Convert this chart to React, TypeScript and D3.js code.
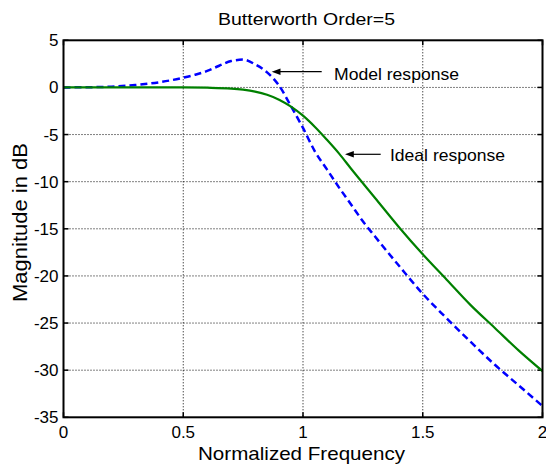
import * as d3 from 'd3';

// readings from the reference plot
const modelFreq = [0, 0.1, 0.2, 0.3, 0.4, 0.5, 0.55, 0.6, 0.65, 0.7, 0.75, 0.8, 0.85, 0.9, 0.95, 1.0, 1.05, 1.1, 1.15, 1.2, 1.25, 1.3, 1.4, 1.5, 1.6, 1.7, 1.8, 1.9, 2.0];
const modelDb = [0, 0.02, 0.08, 0.25, 0.55, 1.03, 1.35, 1.75, 2.3, 2.8, 2.95, 2.45, 1.6, 0.2, -2.0, -4.3, -6.8, -8.7, -10.6, -12.4, -14.2, -15.8, -18.9, -21.9, -24.5, -27.0, -29.4, -31.6, -33.8];

const idealFreq = [0, 0.3, 0.5, 0.6, 0.7, 0.75, 0.8, 0.85, 0.9, 0.95, 1.0, 1.05, 1.1, 1.15, 1.2, 1.3, 1.4, 1.5, 1.6, 1.7, 1.8, 1.9, 2.0];
const idealDb = [0, 0, 0, -0.03, -0.12, -0.24, -0.44, -0.78, -1.3, -2.04, -3.0, -4.2, -5.56, -7.0, -8.6, -11.7, -14.8, -17.7, -20.4, -23.1, -25.5, -27.9, -30.1];

const xTicks = [0, 0.5, 1, 1.5, 2];
const xTickLabels = ['0', '0.5', '1', '1.5', '2'];
const yTicks = [5, 0, -5, -10, -15, -20, -25, -30, -35];

const width = 546;
const height = 468;
const margin = { top: 40.3, right: 3.5, bottom: 50.7, left: 63.5 };
const font = '"Liberation Sans", Arial, sans-serif';

export default function App() {
  const x = d3.scaleLinear().domain([0, 2]).range([margin.left, width - margin.right]);
  const y = d3.scaleLinear().domain([-35, 5]).range([height - margin.bottom, margin.top]);
  const [x0, x1] = x.range();
  const [y0, y1] = y.range();

  const line = d3.line<[number, number]>()
    .x(d => x(d[0]))
    .y(d => y(d[1]))
    .curve(d3.curveMonotoneX);

  const modelPts = modelFreq.map((f, i) => [f, modelDb[i]] as [number, number]);
  const idealPts = idealFreq.map((f, i) => [f, idealDb[i]] as [number, number]);

  const tick = 5;

  return (
    <svg width={width} height={height} style={{ position: 'absolute', left: 0, top: 0, background: '#fff' }}>
      <defs>
        <clipPath id="plot">
          <rect x={x0} y={y1} width={x1 - x0} height={y0 - y1} />
        </clipPath>
      </defs>

      {/* grid */}
      <g stroke="#000" strokeWidth={1} strokeDasharray="1,2">
        {xTicks.slice(1, -1).map(t => (
          <line key={'gx' + t} x1={x(t)} x2={x(t)} y1={y1} y2={y0} />
        ))}
        {yTicks.slice(1, -1).map(t => (
          <line key={'gy' + t} x1={x0} x2={x1} y1={y(t)} y2={y(t)} />
        ))}
      </g>

      {/* ticks, inward on all sides */}
      <g stroke="#000" strokeWidth={1.5}>
        {xTicks.map(t => (
          <g key={'tx' + t}>
            <line x1={x(t)} x2={x(t)} y1={y0} y2={y0 - tick} />
            <line x1={x(t)} x2={x(t)} y1={y1} y2={y1 + tick} />
          </g>
        ))}
        {yTicks.map(t => (
          <g key={'ty' + t}>
            <line x1={x0} x2={x0 + tick} y1={y(t)} y2={y(t)} />
            <line x1={x1} x2={x1 - tick} y1={y(t)} y2={y(t)} />
          </g>
        ))}
      </g>

      {/* curves */}
      <g clipPath="url(#plot)" fill="none">
        <path d={line(modelPts) || ''} stroke="#0000ff" strokeWidth={2.5} strokeDasharray="7,4" />
        <path d={line(idealPts) || ''} stroke="#008000" strokeWidth={2.2} />
      </g>

      {/* box */}
      <rect x={x0} y={y1} width={x1 - x0} height={y0 - y1} fill="none" stroke="#000" strokeWidth={2} />

      {/* tick labels */}
      <g fontFamily={font} fontSize={17} fill="#000">
        {xTicks.map((t, i) => (
          <text key={'lx' + t} x={x(t)} y={437.5} textAnchor="middle">{xTickLabels[i]}</text>
        ))}
        {yTicks.map(t => (
          <text key={'ly' + t} x={x0 - 5} y={y(t)} dy="0.35em" textAnchor="end">{t}</text>
        ))}
      </g>

      {/* annotations */}
      <g stroke="#000" strokeWidth={1.2}>
        <line x1={280} x2={321.7} y1={71.7} y2={71.7} />
        <line x1={353} x2={380.7} y1={154.3} y2={154.3} />
      </g>
      <g fill="#000">
        <path d="M271.7,71.7 L280.5,68.5 L280.5,74.9 Z" />
        <path d="M345,154.3 L353.8,151.1 L353.8,157.5 Z" />
      </g>
      <g fontFamily={font} fontSize={17} fill="#000">
        <text x={334} y={79.5} textLength={125} lengthAdjust="spacingAndGlyphs">Model response</text>
        <text x={390} y={160.5} textLength={115} lengthAdjust="spacingAndGlyphs">Ideal response</text>
      </g>

      {/* titles */}
      <g fontFamily={font} fill="#000">
        <text x={218} y={25} fontSize={17} textLength={177} lengthAdjust="spacingAndGlyphs">Butterworth Order=5</text>
        <text x={198} y={460} fontSize={18.5} textLength={207} lengthAdjust="spacingAndGlyphs">Normalized Frequency</text>
        <text transform="translate(27,302) rotate(-90)" fontSize={19.5} textLength={159} lengthAdjust="spacingAndGlyphs">Magnitude in dB</text>
      </g>
    </svg>
  );
}
